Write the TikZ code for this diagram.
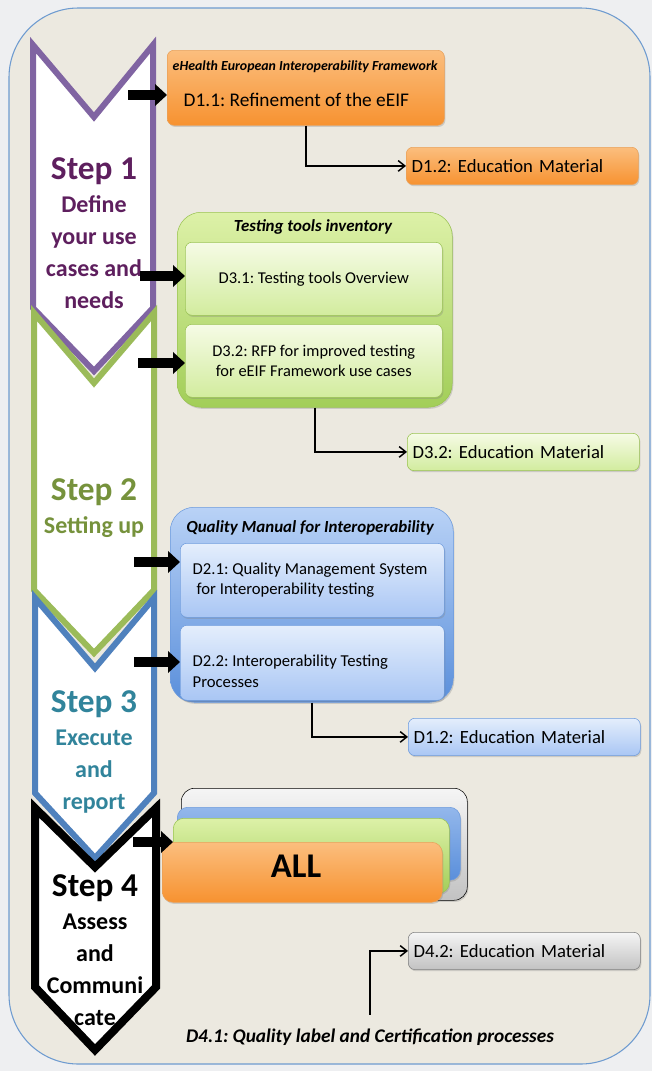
\documentclass[tikz,border=0pt]{standalone}
\usepackage{fontspec}
\setmainfont{Carlito}
\usetikzlibrary{arrows.meta,shadows}
\frenchspacing

\definecolor{pagebg}{HTML}{EEEFF1}
\definecolor{framebg}{HTML}{ECE9E0}
\definecolor{frameline}{HTML}{6E9BD0}
\definecolor{purpline}{HTML}{8064A2}
\definecolor{purptxt}{HTML}{5E1F5E}
\definecolor{grnline}{HTML}{9BBB59}
\definecolor{grntxt}{HTML}{76923C}
\definecolor{bluline}{HTML}{4F81BD}
\definecolor{blutxt}{HTML}{31849B}
\definecolor{orgtop}{HTML}{FBBE7E}
\definecolor{orgbot}{HTML}{F79230}
\definecolor{orgline}{HTML}{E9A15A}
\definecolor{lgtop}{HTML}{F6FBE6}
\definecolor{lgbot}{HTML}{D2EC9E}
\definecolor{ggtop}{HTML}{DDF1A8}
\definecolor{ggbot}{HTML}{A2CE58}
\definecolor{ggline}{HTML}{9AC352}
\definecolor{lbtop}{HTML}{E4EEFC}
\definecolor{lbbot}{HTML}{A9C6F4}
\definecolor{bbtop}{HTML}{B9D2F6}
\definecolor{bbbot}{HTML}{5A8FDB}
\definecolor{bbline}{HTML}{6D9BDD}
\definecolor{grtop}{HTML}{F5F5F5}
\definecolor{grbot}{HTML}{C2C2C2}
\newcommand{\stepsize}{\fontsize{25}{30}\selectfont}

\begin{document}
\begin{tikzpicture}[x=0.75pt, y=-0.75pt, line join=miter,
    chev/.style={draw=#1, line width=4.5pt, fill=white},
    lbl/.style={font=\bfseries\fontsize{18}{24}\selectfont, align=center},
    main/.style={anchor=north west, inner sep=0pt, rounded corners=5pt,
      drop shadow={opacity=0.3, shadow xshift=0.8pt, shadow yshift=-1.2pt}},
    orange/.style={main, draw=orgline, top color=orgtop, bottom color=orgbot},
    lgreen/.style={main, draw=ggline, top color=lgtop, bottom color=lgbot},
    ggroup/.style={main, draw=ggline, top color=ggtop, bottom color=ggbot, rounded corners=18pt},
    lblue/.style={main, draw=bbline, top color=lbtop, bottom color=lbbot},
    bgroup/.style={main, draw=bbline, top color=bbtop, bottom color=bbbot, rounded corners=18pt},
    grey/.style={main, draw=gray, top color=grtop, bottom color=grbot},
    edu/.style={text width=166pt, inner xsep=4pt, minimum height=28pt, align=left, font=\fontsize{14}{16}\selectfont},
    txt/.style={font=\fontsize{14.5}{17}\selectfont},
    ttl/.style={font=\bfseries\itshape\fontsize{12.7}{14}\selectfont},
    blk/.style={line width=7pt, -{Triangle[length=9pt, width=16pt]}},
    conn/.style={line width=1.1pt, -{Straight Barb[length=5pt, width=8pt]}}]
\useasboundingbox (0,0) rectangle (652,1071);
\fill[pagebg] (0,0) rectangle (652,1071);
\draw[frameline, fill=framebg, line width=0.8pt, rounded corners=52pt] (9,8) rectangle (650,1064);

\draw[chev=purpline] (33,45) -- (94,117) -- (153,45) -- (153,308) -- (94,371) -- (33,308) -- cycle;
\draw[chev=grnline] (34,313) -- (94,383) -- (154,313) -- (154,590) -- (94,653) -- (34,590) -- cycle;
\draw[chev=bluline] (35,598) -- (95,668) -- (154,598) -- (154,793) -- (95,858) -- (35,793) -- cycle;
\draw[chev=black, line width=6pt] (35,808) -- (95,867) -- (156,808) -- (156,987) -- (95,1050) -- (35,987) -- cycle;

\node[lbl, text=purptxt] (s1) at (94,233) {{\stepsize Step 1}\\[1pt]Define\\your use\\cases and\\needs};
\node[lbl, text=grntxt] (s2) at (94,508) {{\stepsize Step 2}\\[1pt]Setting up};
\node[lbl, text=blutxt] (s3) at (94,752) {{\stepsize Step 3}\\[1pt]Execute\\and\\report};
\node[lbl] (s4) at (95,950) {{\stepsize Step 4}\\[1pt]Assess\\and\\Communi\\cate};

\node[orange, minimum width=207.75pt, minimum height=56.25pt] (d11) at (167,50) {};
\node[ttl, font=\bfseries\itshape\fontsize{10.4}{12}\selectfont, anchor=west] at (168,67) {eHealth European Interoperability Framework};
\node[txt, anchor=west] at (179,100) {D1.1: Refinement of the eEIF};
\node[orange, edu] (d12) at (406,147) {D1.2: Education Material};

\node[ggroup, minimum width=206.25pt, minimum height=146.25pt] (g) at (177,212) {};
\node[ttl] at (313,227) {Testing tools inventory};
\node[lgreen, minimum width=192.75pt, minimum height=54.75pt, font=\fontsize{12.4}{15}\selectfont] (d31) at (185,242) {D3.1: Testing tools Overview};
\node[lgreen, minimum width=192.75pt, minimum height=54.75pt, align=center, font=\fontsize{12.3}{15.5}\selectfont] (d32) at (185,324) {D3.2: RFP for improved testing\\for eEIF Framework use cases};
\node[lgreen, edu] (d32e) at (407,433) {D3.2: Education Material};

\node[bgroup, minimum width=212.25pt, minimum height=146.25pt] (b) at (170,507) {};
\node[ttl] at (310,528) {Quality Manual for Interoperability};
\node[lblue, minimum width=198pt, minimum height=55.5pt] (d21) at (180,543) {};
\node[anchor=west, align=left, font=\fontsize{12.5}{15.5}\selectfont] at (188,580) {D2.1: Quality Management System\\\hspace{3pt}for Interoperability testing};
\node[lblue, minimum width=198pt, minimum height=56.25pt] (d22) at (180,625) {};
\node[anchor=west, align=left, font=\fontsize{12.5}{15.5}\selectfont] at (188,671) {D2.2: Interoperability Testing\\Processes};
\node[lblue, edu] (d12b) at (408,718) {D1.2: Education Material};

\node[grey, draw=black, rounded corners=10pt, minimum width=214.5pt, minimum height=84pt] (allk) at (181,788) {};
\node[main, draw=bbline, top color=bbtop!60!bbbot, bottom color=bbbot, rounded corners=8pt, minimum width=212.25pt, minimum height=54.75pt] (allb) at (177,807) {};
\node[main, draw=ggline, top color=ggtop, bottom color=ggbot, rounded corners=8pt, minimum width=207pt, minimum height=56.25pt] (allg) at (173,818) {};
\node[orange, rounded corners=8pt, minimum width=210pt, minimum height=45pt] (allo) at (162,842) {};
\node[font=\bfseries\fontsize{26}{30}\selectfont] (all) at (296,866) {ALL};

\node[grey, edu] (d42) at (408,932) {D4.2: Education Material};
\node[ttl, font=\bfseries\itshape\fontsize{14.5}{17}\selectfont] (d41) at (370,1037) {D4.1: Quality label and Certification processes};

\draw[conn] (d11) |- (d12);
\draw[conn] (g) |- (d32e);
\draw[conn] (b) |- (d12b);
\draw[conn] ([yshift=7pt]d41.north) |- (d42);

\coordinate (a1) at (128,95);
\coordinate (a2) at (140,276);
\coordinate (a3) at (138,363);
\coordinate (a4) at (134,562);
\coordinate (a5) at (134,662);
\coordinate (a6) at (133,842);
\draw[blk] (a1) -- (a1 -| d11.west);
\draw[blk] (a2) -- (a2 -| d31.west);
\draw[blk] (a3) -- (a3 -| d32.west);
\draw[blk] (a4) -- (a4 -| d21.west);
\draw[blk] (a5) -- (a5 -| d22.west);
\draw[blk] (a6) -- (a6 -| allg.west);
\end{tikzpicture}
\end{document}
